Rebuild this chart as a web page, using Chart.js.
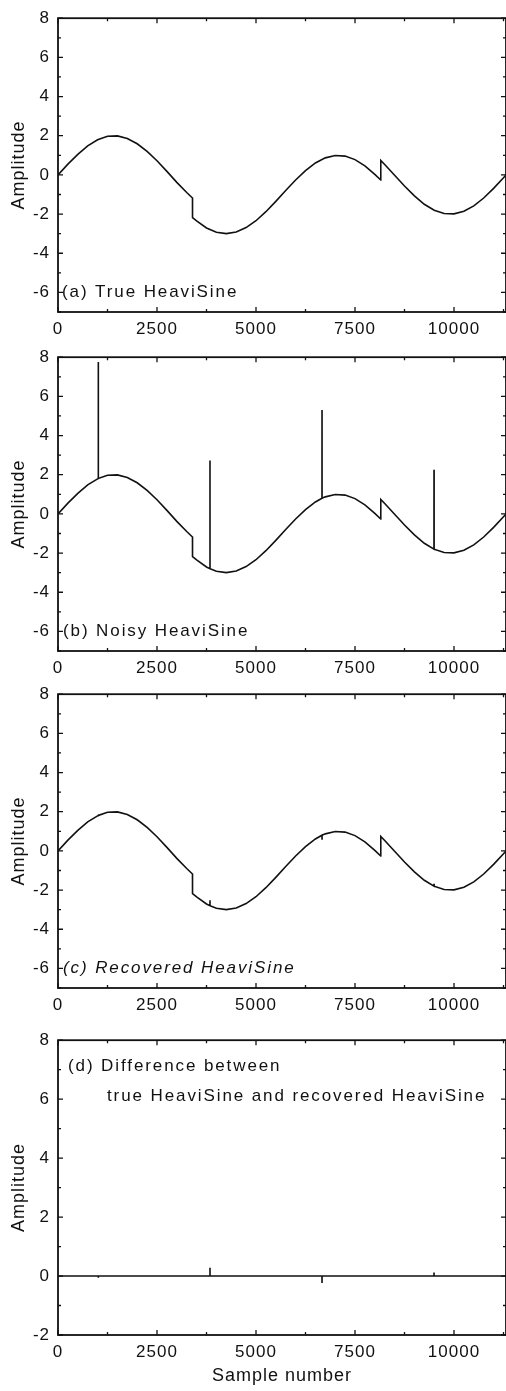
<!DOCTYPE html>
<html>
<head>
<meta charset="utf-8">
<script src="https://cdn.jsdelivr.net/npm/chart.js@4.4.1/dist/chart.umd.min.js"></script>
<style>
  html, body { margin: 0; padding: 0; background: #fff; overflow: hidden; }
  #wrap { position: relative; width: 506px; height: 1391px; }
  canvas { position: absolute; left: 0; }
</style>
</head>
<body>
<div id="wrap">
  <canvas id="panelA" width="506" height="344" style="top:0px"></canvas>
  <canvas id="panelB" width="506" height="344" style="top:339px"></canvas>
  <canvas id="panelC" width="506" height="344" style="top:676px"></canvas>
  <canvas id="panelD" width="506" height="369" style="top:1022px"></canvas>
</div>
<script>
// sample positions and the true HeaviSine
const sampleX = [0, 250, 500, 750, 1000, 1250, 1500, 1750, 2000, 2250, 2500, 2750, 3000, 3250, 3396,
  3397, 3500, 3750, 4000, 4250, 4500, 4750, 5000, 5250, 5500, 5750, 6000, 6250, 6500, 6750, 7000,
  7250, 7500, 7750, 8000, 8150, 8151, 8250, 8500, 8750, 9000, 9250, 9500, 9750, 10000, 10250, 10500,
  10750, 11000, 11250, 11313];
const trueHeaviSine = [0, 0.55, 1.05, 1.48, 1.79, 1.97, 1.99, 1.86, 1.59, 1.20, 0.72, 0.18, -0.38, -0.90, -1.18,
  -2.18, -2.35, -2.71, -2.93, -3.00, -2.92, -2.69, -2.34, -1.88, -1.35, -0.80, -0.26, 0.22, 0.61, 0.87, 0.99,
  0.96, 0.78, 0.46, 0.03, -0.26, 0.74, 0.53, -0.02, -0.57, -1.07, -1.50, -1.80, -1.97, -1.99, -1.86, -1.58,
  -1.18, -0.69, -0.15, 0];

// impulses in the noisy signal and what is left of them afterwards
const spikeX = [1018, 3838, 6667, 9495];
const spikeBase = [1.81, -2.80, 0.80, -1.80];
const noisyPeak = [7.75, 2.72, 5.31, 2.26];
const recoveredAtSpike = [1.76, -2.52, 0.61, -1.68];
const diffAtSpike = [-0.06, 0.28, -0.21, 0.12];

// difference panel baseline
const diffX = [0, 11313];
const diffY = [0, 0];

// axis ticks
const xTicks = [0, 2500, 5000, 7500, 10000];
const xMinor = [1250, 3750, 6250, 8750, 11250];
const yTicks = [-6, -4, -2, 0, 2, 4, 6, 8];
const yMinor = [-7, -5, -3, -1, 1, 3, 5, 7];
const yTicksD = [-2, 0, 2, 4, 6, 8];
const yMinorD = [-1, 1, 3, 5, 7];

const INK = '#111';
const FONT = '"Liberation Sans", Arial, sans-serif';

const toPoints = (xs, ys) => xs.map((x, i) => ({x: x, y: ys[i]}));

const withSpikes = (xs, ys, base, peak) => {
  const pts = toPoints(xs, ys);
  spikeX.forEach((sx, k) => {
    pts.push({x: sx - 1, y: base[k]}, {x: sx, y: peak[k]}, {x: sx + 1, y: base[k]});
  });
  return pts.sort((a, b) => a.x - b.x);
};

const spacing = {
  id: 'spacing',
  beforeUpdate(chart) { chart.ctx.letterSpacing = '1px'; },
  beforeDraw(chart) { chart.ctx.letterSpacing = '1px'; }
};

// box round the plot, inward ticks on all four sides, panel caption
const frame = {
  id: 'frame',
  afterDatasetsDraw(chart, args, opts) {
    const {ctx, chartArea: a, scales: {x, y}} = chart;
    ctx.save();
    ctx.strokeStyle = INK;
    ctx.lineWidth = 1.8;
    ctx.strokeRect(a.left, a.top, a.right - a.left, a.bottom - a.top);
    ctx.lineWidth = 1.3;
    ctx.beginPath();
    const xMark = (vals, len) => vals.forEach(v => {
      const px = x.getPixelForValue(v);
      ctx.moveTo(px, a.top); ctx.lineTo(px, a.top + len);
      ctx.moveTo(px, a.bottom); ctx.lineTo(px, a.bottom - len);
    });
    const yMark = (vals, len) => vals.forEach(v => {
      const py = y.getPixelForValue(v);
      ctx.moveTo(a.left, py); ctx.lineTo(a.left + len, py);
      ctx.moveTo(a.right, py); ctx.lineTo(a.right - len, py);
    });
    xMark(xTicks, 5);
    xMark(xMinor, 3);
    yMark(opts.major, 5);
    yMark(opts.minor, 3);
    ctx.stroke();

    ctx.letterSpacing = '1.9px';
    ctx.font = (opts.italic ? 'italic ' : '') + '17px ' + FONT;
    ctx.fillStyle = INK;
    ctx.textAlign = 'left';
    ctx.textBaseline = 'middle';
    opts.lines.forEach(l => ctx.fillText(l.text, a.left + l.dx, y.getPixelForValue(l.at)));
    ctx.restore();
  }
};

const makePanel = (id, points, yMin, major, minor, caption, last) => {
  return new Chart(document.getElementById(id), {
    type: 'line',
    data: {
      datasets: [{
        data: points,
        borderColor: INK,
        borderWidth: 1.6,
        pointRadius: 0,
        tension: 0,
        fill: false
      }]
    },
    options: {
      responsive: false,
      animation: false,
      events: [],
      layout: {padding: {top: 13, right: 0, bottom: 0, left: 0}},
      plugins: {
        legend: {display: false},
        tooltip: {enabled: false},
        frame: {major: major, minor: minor, lines: caption.lines, italic: caption.italic}
      },
      scales: {
        x: {
          type: 'linear',
          min: 0,
          max: 11313,
          afterBuildTicks: (s) => { s.ticks = xTicks.map(v => ({value: v})); },
          afterFit: (s) => { s.height = last ? 56 : 32; },
          grid: {display: false, drawTicks: false},
          border: {display: false},
          ticks: {
            color: INK,
            font: {family: FONT, size: 17},
            padding: 7,
            maxRotation: 0,
            autoSkip: false,
            callback: (v) => String(v)
          },
          title: {
            display: last,
            text: 'Sample number',
            color: INK,
            font: {family: FONT, size: 18},
            padding: {top: 0, bottom: 4}
          }
        },
        y: {
          min: yMin,
          max: 8,
          afterBuildTicks: (s) => { s.ticks = major.map(v => ({value: v})); },
          afterFit: (s) => { s.width = 58; },
          grid: {display: false, drawTicks: false},
          border: {display: false},
          ticks: {
            color: INK,
            font: {family: FONT, size: 17},
            padding: 8,
            callback: (v) => String(v)
          },
          title: {
            display: true,
            text: 'Amplitude',
            color: INK,
            font: {family: FONT, size: 18},
            padding: {top: 8, bottom: 0}
          }
        }
      }
    },
    plugins: [spacing, frame]
  });
};

makePanel('panelA', toPoints(sampleX, trueHeaviSine), -7, yTicks, yMinor,
  {lines: [{text: '(a) True HeaviSine', dx: 4, at: -6}]}, false);
makePanel('panelB', withSpikes(sampleX, trueHeaviSine, spikeBase, noisyPeak), -7, yTicks, yMinor,
  {lines: [{text: '(b) Noisy HeaviSine', dx: 5, at: -6}]}, false);
makePanel('panelC', withSpikes(sampleX, trueHeaviSine, spikeBase, recoveredAtSpike), -7, yTicks, yMinor,
  {italic: true, lines: [{text: '(c) Recovered HeaviSine', dx: 5, at: -6}]}, false);
makePanel('panelD', withSpikes(diffX, diffY, [0, 0, 0, 0], diffAtSpike), -2, yTicksD, yMinorD,
  {lines: [
    {text: '(d) Difference between', dx: 10, at: 7.1},
    {text: 'true HeaviSine and recovered HeaviSine', dx: 49, at: 6.1}
  ]}, true);
</script>
</body>
</html>
